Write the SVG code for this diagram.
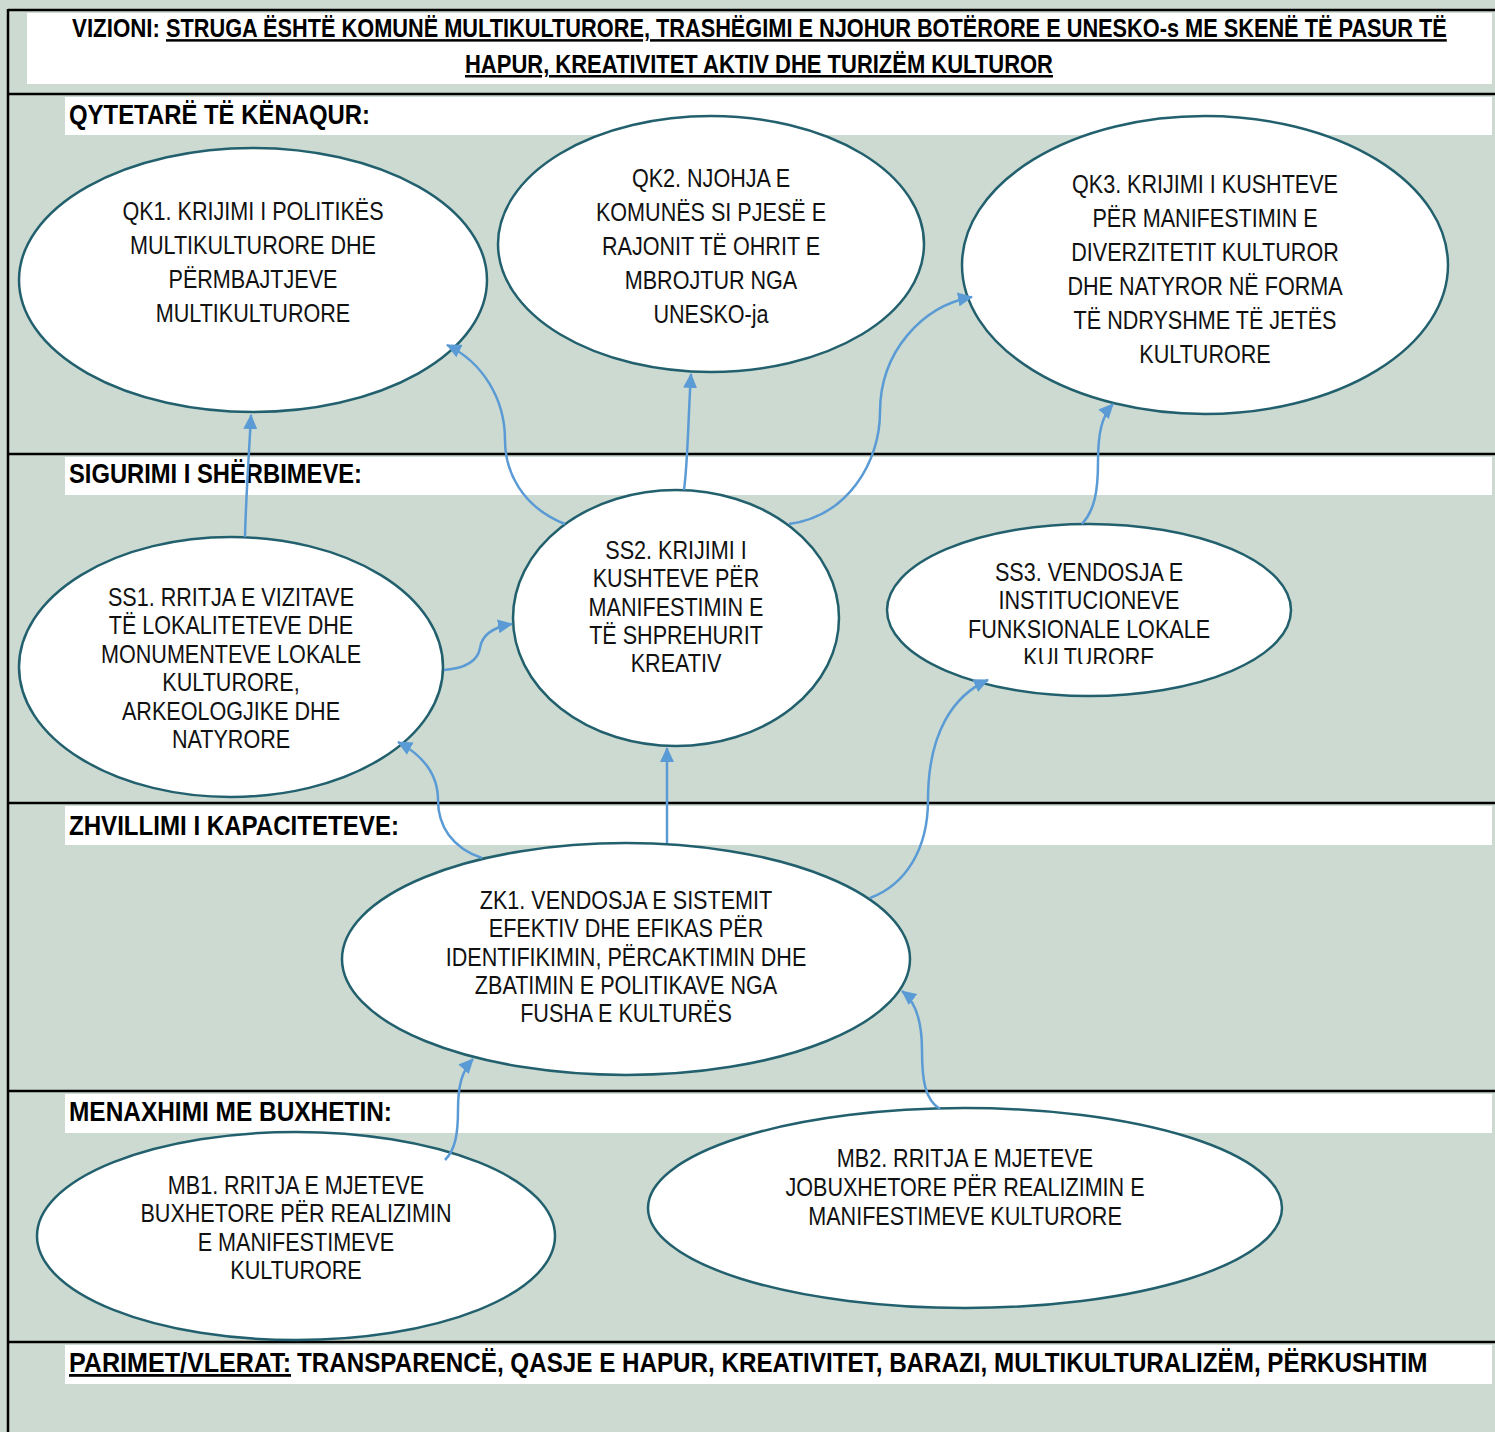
<svg xmlns="http://www.w3.org/2000/svg" width="1495" height="1432" viewBox="0 0 1495 1432">
<style>
.bg{fill:#CCDAD1}
.band{fill:#FFFFFF}
.rule{stroke:#000;stroke-width:2.5}
.node{fill:#FFFFFF;stroke:#22606E;stroke-width:2.5}
.conn{fill:none;stroke:#5B9BD5;stroke-width:2.5;marker-end:url(#arr)}
.nt{font-family:"Liberation Sans",Arial,sans-serif;font-size:26px;fill:#111;text-anchor:middle}
.hd{font-family:"Liberation Sans",Arial,sans-serif;font-size:28px;font-weight:bold;fill:#000}
.vz{font-family:"Liberation Sans",Arial,sans-serif;font-size:25px;font-weight:bold;fill:#000}
.ul{text-decoration:underline}
</style>
<defs>
<marker id="arr" markerUnits="userSpaceOnUse" markerWidth="16" markerHeight="14" refX="14" refY="7" orient="auto">
<path d="M0,0 L15,7 L0,14 z" fill="#5B9BD5"/>
</marker>
<clipPath id="ss3clip"><rect x="880" y="540" width="420" height="124"/></clipPath>
</defs>
<rect class="bg" x="0" y="0" width="1495" height="1432"/>
<g id="frame">
<rect class="band" x="27" y="13" width="1465" height="71"/>
<rect class="band" x="65" y="97" width="1427" height="38"/>
<rect class="band" x="65" y="457" width="1427" height="38"/>
<rect class="band" x="65" y="806" width="1427" height="39"/>
<rect class="band" x="65" y="1094" width="1427" height="39"/>
<rect class="band" x="65" y="1345" width="1427" height="39"/>
<line class="rule" x1="8" y1="10" x2="1495" y2="10"/>
<line class="rule" x1="8" y1="9" x2="8" y2="1432"/>
<line class="rule" x1="8" y1="94" x2="1495" y2="94"/>
<line class="rule" x1="8" y1="454" x2="1495" y2="454"/>
<line class="rule" x1="8" y1="803" x2="1495" y2="803"/>
<line class="rule" x1="8" y1="1091" x2="1495" y2="1091"/>
<line class="rule" x1="8" y1="1342" x2="1495" y2="1342"/>
</g>
<g id="labels">
<text class="vz" x="72" y="37" textLength="88" lengthAdjust="spacingAndGlyphs">VIZIONI:</text>
<text class="vz ul" transform="translate(166,37) scale(0.866,1)" x="0" y="0" textLength="1479" lengthAdjust="spacingAndGlyphs">STRUGA ËSHTË KOMUNË MULTIKULTURORE, TRASHËGIMI E NJOHUR BOTËRORE E UNESKO-s ME SKENË TË PASUR TË</text>
<text class="vz ul" x="465" y="73" textLength="588" lengthAdjust="spacingAndGlyphs">HAPUR, KREATIVITET AKTIV DHE TURIZËM KULTUROR</text>
<text class="hd" x="69" y="124" textLength="301" lengthAdjust="spacingAndGlyphs">QYTETARË TË KËNAQUR:</text>
<text class="hd" x="69" y="483" textLength="293" lengthAdjust="spacingAndGlyphs">SIGURIMI I SHËRBIMEVE:</text>
<text class="hd" x="69" y="835" textLength="330" lengthAdjust="spacingAndGlyphs">ZHVILLIMI I KAPACITETEVE:</text>
<text class="hd" x="69" y="1121" textLength="323" lengthAdjust="spacingAndGlyphs">MENAXHIMI ME BUXHETIN:</text>
<text class="hd ul" x="69" y="1372" textLength="222" lengthAdjust="spacingAndGlyphs">PARIMET/VLERAT:</text>
<text class="hd" transform="translate(297,1372) scale(0.857,1)" x="0" y="0" textLength="1319" lengthAdjust="spacingAndGlyphs">TRANSPARENCË, QASJE E HAPUR, KREATIVITET, BARAZI, MULTIKULTURALIZËM, PËRKUSHTIM</text>
</g>
<g id="QK1">
<ellipse class="node" cx="253" cy="280" rx="234" ry="132"/>
<text class="nt" transform="translate(253,0) scale(0.83,1)"><tspan x="0" y="220">QK1. KRIJIMI I POLITIKËS</tspan><tspan x="0" y="254">MULTIKULTURORE DHE</tspan><tspan x="0" y="288">PËRMBAJTJEVE</tspan><tspan x="0" y="322">MULTIKULTURORE</tspan></text>
</g>
<g id="QK2">
<ellipse class="node" cx="711" cy="244" rx="213" ry="128"/>
<text class="nt" transform="translate(711,0) scale(0.83,1)"><tspan x="0" y="187">QK2. NJOHJA E</tspan><tspan x="0" y="221">KOMUNËS SI PJESË E</tspan><tspan x="0" y="255">RAJONIT TË OHRIT E</tspan><tspan x="0" y="289">MBROJTUR NGA</tspan><tspan x="0" y="323">UNESKO-ja</tspan></text>
</g>
<g id="QK3">
<ellipse class="node" cx="1205" cy="265" rx="243" ry="149"/>
<text class="nt" transform="translate(1205,0) scale(0.83,1)"><tspan x="0" y="193">QK3. KRIJIMI I KUSHTEVE</tspan><tspan x="0" y="227">PËR MANIFESTIMIN E</tspan><tspan x="0" y="261">DIVERZITETIT KULTUROR</tspan><tspan x="0" y="295">DHE NATYROR NË FORMA</tspan><tspan x="0" y="329">TË NDRYSHME TË JETËS</tspan><tspan x="0" y="363">KULTURORE</tspan></text>
</g>
<g id="SS1">
<ellipse class="node" cx="231" cy="667" rx="212" ry="130"/>
<text class="nt" transform="translate(231,0) scale(0.83,1)"><tspan x="0" y="606">SS1. RRITJA E VIZITAVE</tspan><tspan x="0" y="634">TË LOKALITETEVE DHE</tspan><tspan x="0" y="663">MONUMENTEVE LOKALE</tspan><tspan x="0" y="691">KULTURORE,</tspan><tspan x="0" y="720">ARKEOLOGJIKE DHE</tspan><tspan x="0" y="748">NATYRORE</tspan></text>
</g>
<g id="SS2">
<ellipse class="node" cx="676" cy="618" rx="163" ry="128"/>
<text class="nt" transform="translate(676,0) scale(0.83,1)"><tspan x="0" y="559">SS2. KRIJIMI I</tspan><tspan x="0" y="587">KUSHTEVE PËR</tspan><tspan x="0" y="616">MANIFESTIMIN E</tspan><tspan x="0" y="644">TË SHPREHURIT</tspan><tspan x="0" y="672">KREATIV</tspan></text>
</g>
<g id="SS3">
<ellipse class="node" cx="1089" cy="610" rx="202" ry="86"/>
<g clip-path="url(#ss3clip)">
<text class="nt" transform="translate(1089,0) scale(0.83,1)"><tspan x="0" y="581">SS3. VENDOSJA E</tspan><tspan x="0" y="609">INSTITUCIONEVE</tspan><tspan x="0" y="638">FUNKSIONALE LOKALE</tspan><tspan x="0" y="666">KULTURORE</tspan></text>
</g>
</g>
<g id="ZK1">
<ellipse class="node" cx="626" cy="959" rx="284" ry="116"/>
<text class="nt" transform="translate(626,0) scale(0.83,1)"><tspan x="0" y="909">ZK1. VENDOSJA E SISTEMIT</tspan><tspan x="0" y="937">EFEKTIV DHE EFIKAS PËR</tspan><tspan x="0" y="966">IDENTIFIKIMIN, PËRCAKTIMIN DHE</tspan><tspan x="0" y="994">ZBATIMIN E POLITIKAVE NGA</tspan><tspan x="0" y="1022">FUSHA E KULTURËS</tspan></text>
</g>
<g id="MB1">
<ellipse class="node" cx="296" cy="1236" rx="259" ry="104"/>
<text class="nt" transform="translate(296,0) scale(0.83,1)"><tspan x="0" y="1194">MB1. RRITJA E MJETEVE</tspan><tspan x="0" y="1222">BUXHETORE PËR REALIZIMIN</tspan><tspan x="0" y="1251">E MANIFESTIMEVE</tspan><tspan x="0" y="1279">KULTURORE</tspan></text>
</g>
<g id="MB2">
<ellipse class="node" cx="965" cy="1208" rx="317" ry="100"/>
<text class="nt" transform="translate(965,0) scale(0.83,1)"><tspan x="0" y="1167">MB2. RRITJA E MJETEVE</tspan><tspan x="0" y="1196">JOBUXHETORE PËR REALIZIMIN E</tspan><tspan x="0" y="1225">MANIFESTIMEVE KULTURORE</tspan></text>
</g>
<g id="connectors">
<path class="conn" d="M245,537 C246,495 249,455 251,415"/>
<path class="conn" d="M565,524 C522,507 505,472 505,440 C505,398 482,362 447,345"/>
<path class="conn" d="M684,490 C688,460 688,420 691,374"/>
<path class="conn" d="M789,524 C848,516 880,462 880,412 C880,352 922,306 972,297"/>
<path class="conn" d="M1082,524 C1095,510 1098,490 1098,462 C1098,432 1102,416 1113,404"/>
<path class="conn" d="M444,670 C468,668 478,660 480,648 C482,634 494,627 512,624"/>
<path class="conn" d="M667,843 L667,748"/>
<path class="conn" d="M482,858 C452,848 438,826 438,800 C438,776 424,756 398,742"/>
<path class="conn" d="M870,898 C905,885 928,850 928,800 C928,732 954,695 988,680"/>
<path class="conn" d="M445,1160 C455,1150 458,1135 458,1110 C458,1085 462,1071 473,1059"/>
<path class="conn" d="M940,1109 C925,1100 922,1080 922,1050 C922,1020 915,1001 902,991"/>
</g>
</svg>
